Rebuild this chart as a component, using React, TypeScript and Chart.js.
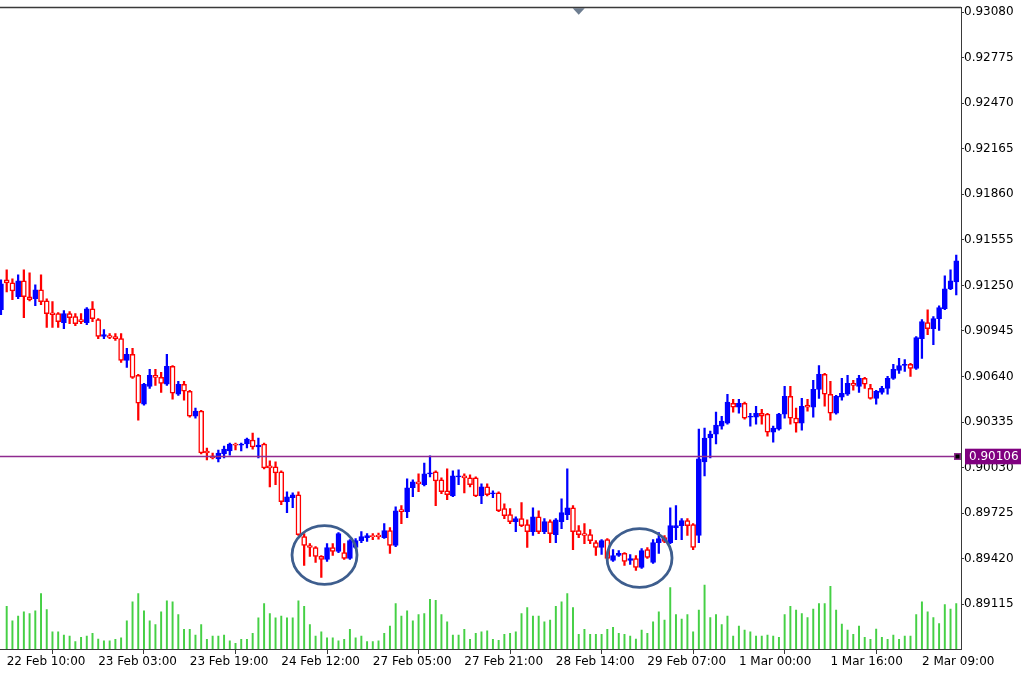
import React, { useEffect, useRef } from "react";
import { Chart, registerables } from "chart.js";
Chart.register(...registerables);

// Hourly candles (bar 0 is the partly hidden one on the left edge)
const OPEN = [
  0.91087, 0.91287, 0.91267, 0.91174, 0.91281, 0.91174, 0.91161, 0.91221, 0.91147, 0.91067,
  0.91061, 0.91001, 0.91061, 0.91041, 0.91021, 0.91001, 0.91094, 0.91021, 0.90908, 0.90914,
  0.90908, 0.90894, 0.90748, 0.90788, 0.90648, 0.90454, 0.90574, 0.90648, 0.90634, 0.90588,
  0.90708, 0.90521, 0.90588, 0.90541, 0.90374, 0.90408, 0.90141, 0.90108, 0.90088, 0.90121,
  0.90141, 0.90188, 0.90181, 0.90188, 0.90214, 0.90168, 0.90188, 0.90041, 0.90035, 0.90001,
  0.89801, 0.89828, 0.89848, 0.89568, 0.89508, 0.89495, 0.89435, 0.89415, 0.89495, 0.89468,
  0.89461, 0.89421, 0.89495, 0.89541, 0.89561, 0.89575, 0.89578, 0.89561, 0.89608, 0.89508,
  0.89748, 0.89735, 0.89895, 0.89935, 0.89915, 0.89988, 0.90001, 0.89948, 0.89875, 0.89841,
  0.89968, 0.89975, 0.89961, 0.89961, 0.89841, 0.89901, 0.89855, 0.89861, 0.89755, 0.89715,
  0.89668, 0.89688, 0.89648, 0.89601, 0.89701, 0.89601, 0.89668, 0.89581, 0.89668, 0.89715,
  0.89761, 0.89608, 0.89588, 0.89581, 0.89528, 0.89495, 0.89548, 0.89408, 0.89441, 0.89455,
  0.89408, 0.89421, 0.89361, 0.89481, 0.89395, 0.89528, 0.89561, 0.89528, 0.89628, 0.89641,
  0.89675, 0.89648, 0.89575, 0.90068, 0.90228, 0.90254, 0.90308, 0.90328, 0.90461, 0.90434,
  0.90461, 0.90368, 0.90368, 0.90394, 0.90388, 0.90268, 0.90288, 0.90388, 0.90508, 0.90361,
  0.90328, 0.90448, 0.90434, 0.90554, 0.90654, 0.90521, 0.90394, 0.90501, 0.90521, 0.90594,
  0.90574, 0.90628, 0.90561, 0.90494, 0.90534, 0.90561, 0.90628, 0.90681, 0.90714, 0.90721,
  0.90694, 0.90894, 0.91001, 0.90961, 0.91028, 0.91094, 0.91227, 0.91274,
];
const HIGH = [
  0.91287, 0.91354, 0.91294, 0.91321, 0.91354, 0.91334, 0.91254, 0.91321, 0.91161, 0.91141,
  0.91068, 0.91081, 0.91074, 0.91061, 0.91061, 0.91101, 0.91141, 0.91028, 0.90954, 0.90928,
  0.90928, 0.90928, 0.90828, 0.90828, 0.90654, 0.90594, 0.90688, 0.90688, 0.90668, 0.90788,
  0.90714, 0.90608, 0.90608, 0.90548, 0.90428, 0.90414, 0.90161, 0.90128, 0.90148, 0.90174,
  0.90194, 0.90194, 0.90194, 0.90228, 0.90261, 0.90228, 0.90194, 0.90075, 0.90068, 0.90008,
  0.89868, 0.89861, 0.89868, 0.89588, 0.89521, 0.89501, 0.89441, 0.89521, 0.89521, 0.89595,
  0.89521, 0.89548, 0.89555, 0.89601, 0.89588, 0.89588, 0.89592, 0.89655, 0.89628, 0.89768,
  0.89775, 0.89955, 0.89948, 0.89988, 0.90061, 0.90108, 0.90008, 0.89961, 0.90021, 0.90008,
  0.90015, 0.89988, 0.89981, 0.89968, 0.89921, 0.89921, 0.89875, 0.89868, 0.89788, 0.89755,
  0.89701, 0.89795, 0.89681, 0.89761, 0.89741, 0.89688, 0.89681, 0.89688, 0.89821, 0.90021,
  0.89775, 0.89641, 0.89655, 0.89615, 0.89541, 0.89548, 0.89555, 0.89481, 0.89475, 0.89461,
  0.89448, 0.89441, 0.89488, 0.89495, 0.89548, 0.89595, 0.89575, 0.89761, 0.89775, 0.89688,
  0.89688, 0.89655, 0.90288, 0.90294, 0.90274, 0.90401, 0.90374, 0.90521, 0.90488, 0.90488,
  0.90468, 0.90394, 0.90441, 0.90421, 0.90394, 0.90308, 0.90394, 0.90574, 0.90574, 0.90428,
  0.90494, 0.90488, 0.90614, 0.90714, 0.90661, 0.90608, 0.90514, 0.90628, 0.90648, 0.90614,
  0.90648, 0.90634, 0.90588, 0.90548, 0.90574, 0.90641, 0.90721, 0.90761, 0.90754, 0.90728,
  0.90908, 0.91021, 0.91087, 0.91041, 0.91114, 0.91314, 0.91354, 0.91454,
];
const LOW = [
  0.91054, 0.91207, 0.91154, 0.91161, 0.91034, 0.91147, 0.91114, 0.91121, 0.90968, 0.90968,
  0.90968, 0.90961, 0.90994, 0.90981, 0.90994, 0.90988, 0.91008, 0.90894, 0.90894, 0.90894,
  0.90881, 0.90734, 0.90701, 0.90628, 0.90348, 0.90448, 0.90561, 0.90581, 0.90534, 0.90581,
  0.90488, 0.90514, 0.90481, 0.90368, 0.90361, 0.90121, 0.90081, 0.90088, 0.90068, 0.90095,
  0.90114, 0.90148, 0.90141, 0.90161, 0.90154, 0.90095, 0.90021, 0.89901, 0.89915, 0.89781,
  0.89728, 0.89761, 0.89575, 0.89375, 0.89435, 0.89395, 0.89295, 0.89401, 0.89441, 0.89461,
  0.89415, 0.89415, 0.89488, 0.89528, 0.89535, 0.89548, 0.89551, 0.89555, 0.89455, 0.89501,
  0.89655, 0.89695, 0.89835, 0.89868, 0.89908, 0.89968, 0.89775, 0.89855, 0.89815, 0.89835,
  0.89915, 0.89861, 0.89901, 0.89835, 0.89788, 0.89841, 0.89828, 0.89735, 0.89688, 0.89655,
  0.89601, 0.89635, 0.89495, 0.89575, 0.89588, 0.89588, 0.89528, 0.89528, 0.89621, 0.89681,
  0.89481, 0.89561, 0.89521, 0.89521, 0.89441, 0.89448, 0.89415, 0.89401, 0.89435, 0.89375,
  0.89381, 0.89341, 0.89355, 0.89421, 0.89388, 0.89455, 0.89528, 0.89521, 0.89548, 0.89548,
  0.89575, 0.89481, 0.89528, 0.89975, 0.90095, 0.90188, 0.90288, 0.90321, 0.90401, 0.90394,
  0.90355, 0.90308, 0.90321, 0.90321, 0.90241, 0.90201, 0.90281, 0.90361, 0.90321, 0.90268,
  0.90281, 0.90408, 0.90368, 0.90494, 0.90441, 0.90348, 0.90388, 0.90481, 0.90514, 0.90548,
  0.90534, 0.90561, 0.90488, 0.90454, 0.90521, 0.90521, 0.90621, 0.90661, 0.90674, 0.90641,
  0.90688, 0.90761, 0.90921, 0.90854, 0.90948, 0.91087, 0.91221, 0.91187,
];
const CLOSE = [
  0.91261, 0.91267, 0.91214, 0.91281, 0.91174, 0.91154, 0.91221, 0.91141, 0.91061, 0.91054,
  0.91008, 0.91061, 0.91034, 0.90994, 0.91008, 0.91094, 0.91028, 0.90908, 0.90921, 0.90901,
  0.90894, 0.90748, 0.90788, 0.90634, 0.90461, 0.90588, 0.90648, 0.90634, 0.90594, 0.90708,
  0.90528, 0.90588, 0.90541, 0.90374, 0.90408, 0.90128, 0.90128, 0.90095, 0.90128, 0.90154,
  0.90188, 0.90181, 0.90188, 0.90221, 0.90168, 0.90181, 0.90028, 0.90028, 0.89995, 0.89801,
  0.89835, 0.89848, 0.89581, 0.89508, 0.89495, 0.89435, 0.89415, 0.89495, 0.89468, 0.89588,
  0.89421, 0.89541, 0.89541, 0.89568, 0.89575, 0.89568, 0.89568, 0.89608, 0.89508, 0.89741,
  0.89735, 0.89895, 0.89935, 0.89921, 0.89988, 0.89995, 0.89941, 0.89868, 0.89848, 0.89975,
  0.89975, 0.89961, 0.89915, 0.89841, 0.89901, 0.89848, 0.89861, 0.89741, 0.89708, 0.89668,
  0.89688, 0.89641, 0.89601, 0.89701, 0.89601, 0.89668, 0.89588, 0.89681, 0.89728, 0.89761,
  0.89601, 0.89581, 0.89575, 0.89541, 0.89495, 0.89541, 0.89421, 0.89441, 0.89455, 0.89401,
  0.89421, 0.89361, 0.89475, 0.89428, 0.89528, 0.89555, 0.89535, 0.89641, 0.89641, 0.89675,
  0.89641, 0.89495, 0.90088, 0.90228, 0.90254, 0.90314, 0.90341, 0.90468, 0.90434, 0.90461,
  0.90361, 0.90374, 0.90394, 0.90374, 0.90268, 0.90294, 0.90388, 0.90508, 0.90361, 0.90328,
  0.90441, 0.90434, 0.90554, 0.90654, 0.90521, 0.90394, 0.90508, 0.90528, 0.90594, 0.90581,
  0.90628, 0.90588, 0.90494, 0.90541, 0.90561, 0.90628, 0.90688, 0.90714, 0.90721, 0.90694,
  0.90901, 0.91008, 0.90961, 0.91028, 0.91101, 0.91227, 0.91281, 0.91414,
];
const VOLUME = [
  null, 1290, 850, 990, 1120, 1070, 1150, 1670, 1190, 520,
  520, 420, 390, 220, 350, 390, 470, 300, 250, 250,
  290, 340, 850, 1420, 1670, 1150, 850, 740, 1120, 1450,
  1420, 1040, 590, 590, 420, 740, 290, 390, 390, 420,
  250, 170, 290, 290, 470, 940, 1370, 1070, 940, 990,
  940, 940, 1450, 1290, 740, 390, 520, 340, 340, 250,
  290, 590, 340, 390, 220, 220, 250, 470, 690, 1370,
  990, 1150, 850, 1040, 1070, 1500, 1470, 1040, 820, 420,
  420, 590, 290, 470, 520, 550, 290, 260, 440, 470,
  520, 1070, 1250, 990, 990, 820, 870, 1290, 1420, 1670,
  1250, 440, 590, 440, 440, 440, 590, 650, 470, 440,
  390, 300, 570, 470, 820, 1120, 870, 1850, 1040, 900,
  1040, 520, 1170, 1930, 950, 1040, 740, 990, 390, 690,
  570, 520, 390, 390, 420, 390, 350, 1040, 1290, 1170,
  1070, 950, 1200, 1370, 1370, 1890, 1170, 750, 570, 440,
  690, 350, 290, 600, 350, 290, 420, 290, 390, 390,
  1040, 1420, 1120, 950, 770, 1340, 1200, 1370,
];
const X_TICK_BARS = [1, 17, 33, 49, 65, 81, 97, 113, 129, 145, 161];
const X_TICK_LABELS = [
  "22 Feb 10:00", "23 Feb 03:00", "23 Feb 19:00", "24 Feb 12:00", "27 Feb 05:00",
  "27 Feb 21:00", "28 Feb 14:00", "29 Feb 07:00", "1 Mar 00:00", "1 Mar 16:00", "2 Mar 09:00",
];
const Y_TICKS = [
  0.9308, 0.92775, 0.9247, 0.92165, 0.9186, 0.91555, 0.9125, 0.90945, 0.9064, 0.90335,
  0.9003, 0.89725, 0.8942, 0.89115,
];
const LEVEL_PRICE = 0.90106;
const CIRCLES = [
  { bar: 56.56, price: 0.894448, rBars: 5.68, rPrice: 0.00197 },
  { bar: 111.63, price: 0.894248, rBars: 5.68, rPrice: 0.00197 },
];
const SHIFT_MARK_BAR = 101;

const BLUE = "#0000ff";
const RED = "#ff0000";
const FONT = { family: "DejaVu Sans", size: 12 };

export default function App() {
  const ref = useRef<HTMLCanvasElement | null>(null);

  useEffect(() => {
    if (!ref.current) return;
    const n = OPEN.length;
    const idx = Array.from({ length: n }, (_, k) => k);
    const bull = idx.map((k) => CLOSE[k] >= OPEN[k]);

    const overlay = {
      id: "overlay",
      afterDatasetsDraw(chart: any) {
        const { ctx, chartArea: a, scales } = chart;
        const xs = scales.x;
        const ys = scales.y;
        ctx.save();
        ctx.beginPath();
        ctx.rect(a.left, a.top, a.right - a.left, a.bottom - a.top);
        ctx.clip();
        const ly = Math.round(ys.getPixelForValue(LEVEL_PRICE)) + 0.5;
        ctx.strokeStyle = "#8f2a8f";
        ctx.lineWidth = 1.5;
        ctx.beginPath();
        ctx.moveTo(a.left, ly);
        ctx.lineTo(a.right, ly);
        ctx.stroke();
        for (const c of CIRCLES) {
          const cx = xs.getPixelForValue(c.bar);
          const cy = ys.getPixelForValue(c.price);
          const rx = Math.abs(xs.getPixelForValue(c.bar + c.rBars) - cx);
          const ry = Math.abs(ys.getPixelForValue(c.price + c.rPrice) - cy);
          ctx.beginPath();
          ctx.ellipse(cx, cy, rx, ry, 0, 0, Math.PI * 2);
          ctx.strokeStyle = "#3e5e8e";
          ctx.lineWidth = 2.8;
          ctx.stroke();
        }
        const tx = xs.getPixelForValue(SHIFT_MARK_BAR);
        ctx.fillStyle = "#6d7d90";
        ctx.beginPath();
        ctx.moveTo(tx - 6, a.top + 1);
        ctx.lineTo(tx + 6, a.top + 1);
        ctx.lineTo(tx, a.top + 7.5);
        ctx.closePath();
        ctx.fill();
        ctx.restore();
      },
      afterDraw(chart: any) {
        const { ctx, chartArea: a, scales } = chart;
        const ys = scales.y;
        ctx.save();
        ctx.strokeStyle = "#3a3a3a";
        ctx.lineWidth = 1.5;
        ctx.beginPath();
        ctx.moveTo(0, a.top + 0.25);
        ctx.lineTo(a.right, a.top + 0.25);
        ctx.stroke();
        const ly = Math.round(ys.getPixelForValue(LEVEL_PRICE)) + 0.5;
        ctx.fillStyle = "#8f2a8f";
        ctx.fillRect(a.right - 7, ly - 3.5, 7, 7);
        ctx.fillStyle = "#000000";
        ctx.fillRect(a.right - 5.5, ly - 2, 4, 4);
        const bx = a.right + 4;
        ctx.fillStyle = "#800080";
        ctx.fillRect(bx, ly - 7.8, 56, 15.6);
        ctx.fillStyle = "#ffffff";
        ctx.font = "12px 'DejaVu Sans'";
        ctx.textBaseline = "middle";
        ctx.textAlign = "left";
        ctx.fillText(LEVEL_PRICE.toFixed(5), bx + 4, ly + 0.5);
        ctx.restore();
      },
    };

    const chart = new Chart(ref.current, {
      type: "bar",
      data: {
        datasets: [
          {
            label: "body",
            data: idx.map((k) => ({ x: k, y: [OPEN[k], CLOSE[k]] })) as any,
            backgroundColor: idx.map((k) => (bull[k] ? BLUE : "#ffffff")),
            borderColor: idx.map((k) => (bull[k] ? BLUE : RED)),
            borderWidth: 1.5,
            borderSkipped: false,
            barThickness: 5,
            grouped: false,
            order: 1,
          } as any,
          {
            label: "wick",
            data: idx.map((k) => ({ x: k, y: [LOW[k], HIGH[k]] })) as any,
            backgroundColor: idx.map((k) => (bull[k] ? BLUE : RED)),
            borderWidth: 0,
            barThickness: 1.6,
            grouped: false,
            order: 2,
          } as any,
          {
            label: "volume",
            data: idx.map((k) => ({ x: k, y: VOLUME[k] })) as any,
            backgroundColor: "#45d045",
            borderWidth: 0,
            barThickness: 1.3,
            grouped: false,
            yAxisID: "yVol",
            order: 3,
          } as any,
        ],
      },
      options: {
        animation: false,
        responsive: false,
        events: [],
        layout: { padding: { top: 4, left: 0, right: 0, bottom: 0 } },
        plugins: { legend: { display: false }, tooltip: { enabled: false } },
        scales: {
          x: {
            type: "linear",
            min: -0.171,
            max: 167.83,
            offset: false,
            grid: {
              display: true,
              drawOnChartArea: false,
              drawTicks: true,
              tickLength: 5,
              color: "#3a3a3a",
            },
            border: { display: true, color: "#3a3a3a", width: 1 },
            afterBuildTicks: (s: any) => {
              s.ticks = X_TICK_BARS.map((v) => ({ value: v }));
            },
            afterFit: (s: any) => {
              s.height = 25;
            },
            ticks: {
              autoSkip: false,
              maxRotation: 0,
              minRotation: 0,
              align: "start",
              padding: 1,
              color: "#000000",
              font: FONT,
              callback: (_v: any, i: number) => X_TICK_LABELS[i],
            },
          } as any,
          y: {
            type: "linear",
            position: "right",
            min: 0.888151,
            max: 0.931133,
            grid: {
              display: true,
              drawOnChartArea: false,
              drawTicks: true,
              tickLength: 3,
              color: "#3a3a3a",
            },
            border: { display: true, color: "#3a3a3a", width: 1 },
            afterBuildTicks: (s: any) => {
              s.ticks = Y_TICKS.map((v) => ({ value: v }));
            },
            afterFit: (s: any) => {
              s.width = 66;
            },
            ticks: {
              padding: 0,
              crossAlign: "near",
              color: "#000000",
              font: FONT,
              callback: (v: any) => Number(v).toFixed(5),
            },
          } as any,
          yVol: {
            type: "linear",
            display: false,
            min: 0,
            max: 19350,
          },
        },
      } as any,
      plugins: [overlay],
    });
    return () => chart.destroy();
  }, []);

  return (
    <div style={{ position: "fixed", left: 0, top: 0, width: 1027, height: 674, background: "#ffffff" }}>
      <canvas ref={ref} width={1027} height={674} style={{ display: "block" }} />
    </div>
  );
}
